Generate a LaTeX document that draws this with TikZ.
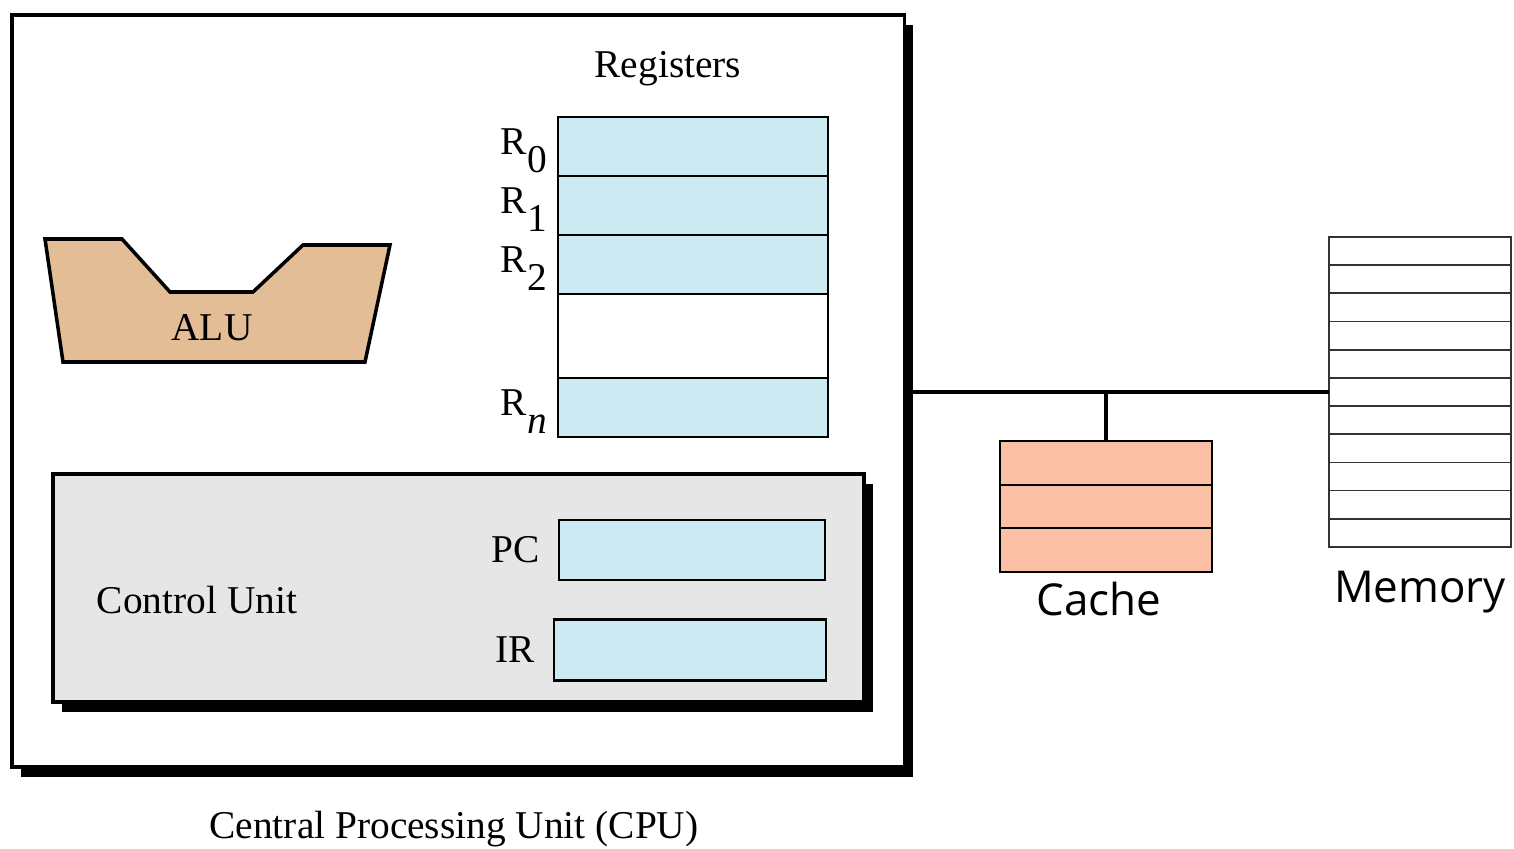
\documentclass[tikz,border=0pt]{standalone}
\usepackage{fontspec}
\setmainfont{Liberation Serif}
\newfontfamily\labelfont{Open Sans}
\usetikzlibrary{positioning,shadows}
\definecolor{regblue}{RGB}{203,234,241}
\definecolor{alubrown}{RGB}{227,189,149}
\definecolor{cachepink}{RGB}{249,192,165}
\definecolor{cugray}{RGB}{230,230,230}
\begin{document}
\begin{tikzpicture}[x=0.01cm, y=-0.01cm,
		box/.style={draw, line width=0.6pt, inner sep=0pt, outer sep=0pt},
		reg/.style={box, fill=regblue, minimum width=2.70cm, minimum height=0.59cm},
		unit/.style={draw, line width=1pt, inner sep=0pt, outer sep=0pt, drop shadow={shadow xshift=0.09cm, shadow yshift=-0.1cm, fill=black, opacity=1}},
		lbl/.style={font=\fontsize{11.2}{13}\selectfont, inner sep=1pt},
		sanslbl/.style={font=\labelfont\fontsize{12.5}{14}\selectfont, inner sep=1pt},
		bus/.style={line width=1.3pt}]
	\useasboundingbox (0,0) rectangle (1514,849);
	
	% CPU
	\node[unit, fill=white, minimum width=8.92cm, minimum height=7.52cm] (cpu) at (458,391) {};
	\node[lbl] (cpulbl) at (454,829) {Central Processing Unit (CPU)};
	
	% ALU
	\draw[line width=1pt, fill=alubrown] (45,239) -- (122,239) -- (170,292) -- (253,292) -- (303,245) -- (390,245) -- (365,362) -- (63,362) -- cycle;
	\node[lbl] (alu) at (212,328) {ALU};
	
	% registers
	\node[lbl] (reglbl) at (668,69) {Registers};
	\node[reg] (r0) at (693,146.5) {};
	\node[reg, below=0pt of r0] (r1) {};
	\node[reg, below=0pt of r1] (r2) {};
	\node[box, fill=white, minimum width=2.70cm, minimum height=0.84cm, below=0pt of r2] (rgap) {};
	\node[reg, below=0pt of rgap] (rn) {};
	\foreach \r/\s in {r0/0, r1/1, r2/2, rn/{\textit{n}}}
		\node[lbl, anchor=base east] at ([xshift=-0.07cm, yshift=-0.08cm]\r.west) {R\raisebox{-5pt}{\s}};
	
	% control unit
	\node[unit, fill=cugray, minimum width=8.11cm, minimum height=2.28cm] (cu) at (458.5,588) {};
	\node[lbl] (culbl) at (197,600) {Control Unit};
	\node[reg, minimum width=2.66cm, minimum height=0.60cm] (pc) at (692,550) {};
	\node[reg, minimum width=2.72cm, minimum height=0.61cm] (ir) at (690,650) {};
	\node[lbl, left=0.15cm of pc] (pclbl) {PC};
	\node[lbl, left=0.15cm of ir] (irlbl) {IR};
	
	% cache
	\node[box, fill=cachepink, line width=0.5pt, minimum width=2.12cm, minimum height=1.31cm] (cache) at (1106,506.5) {};
	\draw[line width=0.5pt] (1000,485) -- (1212,485) (1000,528) -- (1212,528);
	\node[sanslbl, below=0.06cm of cache, xshift=-0.07cm] (cachelbl) {Cache};
	
	% memory
	\node[box, draw=black!80, line width=0.5pt, minimum width=1.82cm, minimum height=3.10cm] (mem) at (1420,392) {};
	\foreach \i in {1,...,10}
		\draw[black!80, line width=0.5pt] (1329,{237+28.18*\i}) -- (1511,{237+28.18*\i});
	\node[sanslbl, below=0.2cm of mem] (memlbl) {Memory};
	
	% bus
	\draw[bus] (cpu.east |- mem.west) -- (mem.west);
	\draw[bus] (cache.north) -- (cache.north |- mem.west);
\end{tikzpicture}
\end{document}
